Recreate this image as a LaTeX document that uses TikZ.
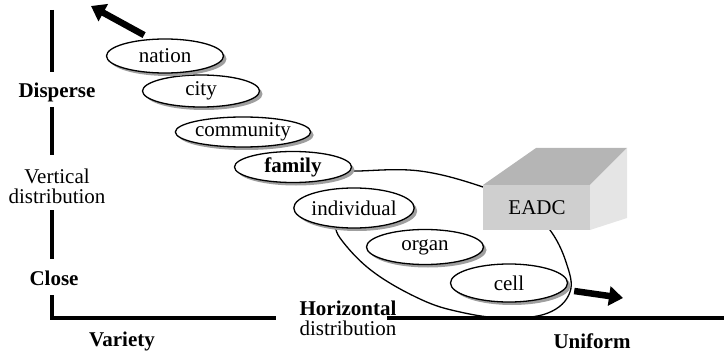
\documentclass[tikz,border=0pt]{standalone}
\usepackage{fontspec}
\setmainfont{Liberation Serif}
\usetikzlibrary{shapes.geometric,shadows,arrows.meta}
\begin{document}
\begin{tikzpicture}[x=1pt,y=-1pt,
  lbl/.style={font=\fontsize{21}{20}\selectfont, align=center, inner sep=0pt},
  blbl/.style={lbl, font=\fontsize{21}{20}\selectfont\bfseries},
  lvl/.style={ellipse, draw, line width=1.3pt, fill=white, inner sep=0pt,
    minimum width=117pt, minimum height=33pt,
    font=\fontsize{21}{23}\selectfont,
    drop shadow={shadow xshift=3pt, shadow yshift=-3pt, fill=gray!75, opacity=1}},
  axis/.style={line width=3.5pt},
  bigarrow/.style={line width=6.5pt, -{Triangle[length=14pt,width=19pt]}}]
\useasboundingbox (0,0) rectangle (724,353);

% loop around the lower levels; its left end lies under family and individual
\draw[line width=1.3pt] plot[smooth, tension=0.65] coordinates {
  (342,172) (358,171) (420,171) (483,187) (525,206) (550,230) (566,262)
  (570,292) (548,313) (505,318) (460,312) (420,299) (372,271) (340,238)
  (336,222)};

% EADC block
\fill[gray!58] (483,185) -- (536,148) -- (627,148) -- (590,185) -- cycle;
\fill[gray!38] (483,185) -- (590,185) -- (590,230) -- (483,230) -- cycle;
\fill[gray!20] (590,185) -- (627,148) -- (627,218) -- (590,230) -- cycle;
\node[lbl] (eadc) at (537,208) {EADC};

% level ellipses, lowest first
\node[lvl, minimum height=38pt] (cell) at (509,283) {cell};
\node[lvl, minimum height=35pt] (organ) at (425,247) {organ};
\node[lvl, minimum height=40pt] (individual) at (354,208) {individual};
\node[lvl, minimum height=31pt] (family) at (293,167) {\bfseries family};
\node[lvl, minimum height=30pt, minimum width=120pt] (community) at (243,132) {community};
\node[lvl, minimum height=32pt] (city) at (201,91) {city};
\node[lvl, minimum height=34pt] (nation) at (165,56) {nation};

% direction arrows
\coordinate (upend) at (91,6);
\coordinate (downend) at (623,298);
\draw[bigarrow] (nation.135) ++(-4,-4) coordinate (upstart) -- (upend);
\draw[bigarrow] (cell.-5) ++(8,3) coordinate (downstart) -- (downend);

% vertical axis
\node[blbl] (disperse) at (57,92) {Disperse};
\node[lbl] (vert) at (57,186) {Vertical\\distribution};
\node[blbl] (close) at (54,278) {Close};
\coordinate (v0) at (52,10);
\coordinate (v1) at (52,72);
\coordinate (v2) at (52,107);
\coordinate (v3) at (52,155);
\coordinate (v4) at (52,210);
\coordinate (v5) at (52,259);
\coordinate (v6) at (52,295);
\coordinate (origin) at (52,318);
\coordinate (h1) at (276,318);
\coordinate (h2) at (387,318);
\coordinate (h3) at (724,318);
\draw[axis] (v0) -- (v1);
\draw[axis] (v2) -- (v3);
\draw[axis] (v4) -- (v5);
\draw[axis] (v6) -- (origin) -- (h1);
\draw[axis] (h2) -- (h3);

% horizontal axis labels
\node[lbl] (horiz) at (348,318) {\bfseries Horizontal\\distribution};
\node[blbl] (variety) at (122,341) {Variety};
\node[blbl] (uniform) at (592,341) {Uniform};
\end{tikzpicture}
\end{document}
